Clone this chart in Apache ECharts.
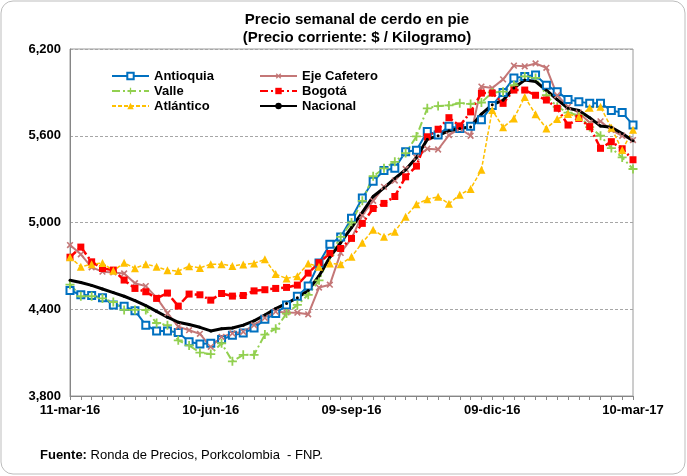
<!DOCTYPE html>
<html>
<head>
<meta charset="utf-8">
<script src="https://cdn.jsdelivr.net/npm/echarts@6/dist/echarts.min.js"></script>
<style>
  html, body { margin: 0; padding: 0; background: #fff; }
  #chart { width: 687px; height: 476px; }
</style>
</head>
<body>
<div id="chart"></div>
<script>
  // semanas (viernes)
  var weeks = ['11-mar-16', '18-mar-16', '25-mar-16', '01-abr-16', '08-abr-16', '15-abr-16', '22-abr-16', '29-abr-16',
    '06-may-16', '13-may-16', '20-may-16', '27-may-16', '03-jun-16', '10-jun-16', '17-jun-16', '24-jun-16',
    '01-jul-16', '08-jul-16', '15-jul-16', '22-jul-16', '29-jul-16', '05-ago-16', '12-ago-16', '19-ago-16',
    '26-ago-16', '02-sep-16', '09-sep-16', '16-sep-16', '23-sep-16', '30-sep-16', '07-oct-16', '14-oct-16',
    '21-oct-16', '28-oct-16', '04-nov-16', '11-nov-16', '18-nov-16', '25-nov-16', '02-dic-16', '09-dic-16',
    '16-dic-16', '23-dic-16', '30-dic-16', '06-ene-17', '13-ene-17', '20-ene-17', '27-ene-17', '03-feb-17',
    '10-feb-17', '17-feb-17', '24-feb-17', '03-mar-17', '10-mar-17'];

  var yTicks = [3800, 4400, 5000, 5600, 6200];

  var antioquia = [4530, 4500, 4495, 4480, 4430, 4420, 4390, 4290, 4250, 4250, 4240, 4175, 4160, 4165, 4190, 4220,
    4235, 4270, 4330, 4370, 4430, 4490, 4560, 4720, 4850, 4900, 5030, 5170, 5285, 5360, 5375, 5490, 5500, 5630,
    5605, 5665, 5650, 5665, 5710, 5810, 5900, 6000, 6010, 6020, 5950, 5905, 5850, 5836, 5824, 5824, 5775, 5760, 5675];
  var ejeCafetero = [4844, 4780, 4690, 4660, 4655, 4648, 4580, 4560, 4480, 4373, 4280, 4255, 4230, 4140, 4209, 4233,
    4244, 4290, 4340, 4383, 4378, 4376, 4365, 4550, 4570, 4790, 4890, 5050, 5150, 5247, 5290, 5370, 5450, 5510,
    5505, 5605, 5650, 5600, 5940, 5930, 5990, 6085, 6080, 6100, 6070, 5880, 5800, 5760, 5690, 5700, 5640, 5600, 5570];
  var valle = [4570, 4490, 4490, 4475, 4450, 4395, 4395, 4395, 4305, 4290, 4185, 4150, 4100, 4090, 4165, 4040,
    4085, 4085, 4225, 4265, 4370, 4430, 4500, 4600, 4775, 4900, 5000, 5150, 5320, 5375, 5420, 5480, 5595, 5790,
    5805, 5810, 5825, 5820, 5830, 5900, 5905, 5950, 6010, 6000, 5880, 5800, 5760, 5740, 5660, 5600, 5515, 5450, 5370];
  var bogota = [4760, 4830, 4728, 4682, 4671, 4602, 4544, 4521, 4475, 4512, 4422, 4505, 4500, 4463, 4509, 4491,
    4495, 4527, 4535, 4544, 4551, 4567, 4650, 4722, 4786, 4820, 4890, 4994, 5097, 5132, 5180, 5316, 5390, 5593,
    5645, 5725, 5668, 5765, 5895, 5895, 5824, 5916, 5916, 5880, 5847, 5790, 5674, 5720, 5663, 5513, 5559, 5510, 5434];
  var atlantico = [4760, 4694, 4712, 4720, 4666, 4721, 4684, 4712, 4694, 4670, 4664, 4698, 4686, 4712, 4712, 4700,
    4710, 4717, 4745, 4643, 4613, 4629, 4717, 4694, 4717, 4712, 4763, 4860, 4950, 4901, 4936, 5040, 5127, 5160,
    5178, 5130, 5192, 5232, 5365, 5778, 5658, 5720, 5868, 5748, 5651, 5716, 5750, 5729, 5793, 5800, 5655, 5501, 5642];
  var nacional = [4600, 4585, 4565, 4540, 4515, 4490, 4460, 4425, 4385, 4345, 4310, 4295, 4275, 4250, 4265, 4270,
    4290, 4320, 4360, 4405, 4440, 4480, 4530, 4630, 4760, 4860, 4965, 5070, 5180, 5240, 5305, 5365, 5450, 5575,
    5600, 5635, 5650, 5660, 5750, 5815, 5845, 5930, 5985, 5975, 5915, 5850, 5790, 5775, 5725, 5667, 5658, 5616, 5565];

  var font = '"Liberation Sans", Arial, sans-serif';
  var plusPath = 'path://M4,0H6V4H10V6H6V10H4V6H0V4H4Z';

  function line(name, data, color, width, type, symbol, size, extra) {
    var s = {
      name: name,
      type: 'line',
      data: data,
      symbol: symbol,
      symbolSize: size,
      showAllSymbol: true,
      lineStyle: { color: color, width: width, type: type },
      itemStyle: { color: color },
      emphasis: { disabled: true }
    };
    for (var k in extra) s[k] = extra[k];
    return s;
  }

  var legendText = { fontFamily: font, fontSize: 13, fontWeight: 'bold', color: '#000', lineHeight: 14 };

  var option = {
    animation: false,
    backgroundColor: '#fff',
    textStyle: { fontFamily: font },
    graphic: [{
      type: 'rect',
      shape: { x: 1, y: 1, width: 684, height: 473, r: 12 },
      style: { fill: 'none', stroke: '#bdbdbd', lineWidth: 1 },
      silent: true
    }],
    title: [
      {
        text: 'Precio semanal de cerdo en pie\n(Precio corriente: $ / Kilogramo)',
        left: 352,
        top: 6,
        textAlign: 'center',
        textStyle: { fontFamily: font, fontSize: 15, fontWeight: 'bold', color: '#000', lineHeight: 18 }
      },
      {
        text: '{b|Fuente:} Ronda de Precios, Porkcolombia  - FNP.',
        left: 35,
        top: 444,
        textStyle: {
          fontFamily: font, fontSize: 13, fontWeight: 'normal', color: '#000',
          rich: { b: { fontFamily: font, fontSize: 13, fontWeight: 'bold', color: '#000' } }
        }
      }
    ],
    legend: [
      {
        data: ['Antioquia', 'Valle', 'Atlántico'],
        orient: 'vertical',
        left: 106,
        top: 64,
        itemWidth: 37,
        itemHeight: 8,
        itemGap: 1,
        textStyle: legendText
      },
      {
        data: ['Eje Cafetero', 'Bogotá', 'Nacional'],
        orient: 'vertical',
        left: 254,
        top: 64,
        itemWidth: 37,
        itemHeight: 8,
        itemGap: 1,
        textStyle: legendText
      }
    ],
    grid: {
      left: 70,
      right: 54,
      top: 49,
      bottom: 80,
      show: true,
      borderColor: '#9a9a9a',
      borderWidth: 1
    },
    xAxis: {
      type: 'category',
      data: weeks,
      boundaryGap: false,
      axisLine: { lineStyle: { color: '#868686', width: 1 } },
      axisTick: { show: true, interval: 0, length: 4, lineStyle: { color: '#868686' } },
      axisLabel: {
        interval: 12,
        margin: 8,
        fontFamily: font,
        fontSize: 13,
        fontWeight: 'bold',
        color: '#000'
      },
      splitLine: { show: false }
    },
    yAxis: {
      type: 'value',
      min: yTicks[0],
      max: yTicks[yTicks.length - 1],
      interval: 600,
      axisLine: { show: true, lineStyle: { color: '#868686', width: 1 } },
      axisTick: { show: false },
      axisLabel: {
        margin: 9,
        fontFamily: font,
        fontSize: 13,
        fontWeight: 'bold',
        color: '#000',
        formatter: function (v) {
          return String(v).replace(/\B(?=(\d{3})+(?!\d))/g, ',');
        }
      },
      splitLine: { show: true, lineStyle: { color: '#a6a6a6', type: [3, 2], width: 1 } }
    },
    series: [
      line('Antioquia', antioquia, '#0070C0', 2, 'solid', 'emptyRect', 7,
        { itemStyle: { color: '#0070C0', borderWidth: 1.2 } }),
      line('Eje Cafetero', ejeCafetero, '#C47777', 2, 'solid', plusPath, 8, { symbolRotate: 45 }),
      line('Valle', valle, '#92D050', 2, [8, 3, 2, 3], plusPath, 9, {}),
      line('Bogotá', bogota, '#FF0000', 2.5, [8, 3, 2, 3], 'rect', 7, {}),
      line('Atlántico', atlantico, '#FFC000', 1.5, [4, 2], 'triangle', 8, {}),
      line('Nacional', nacional, '#000000', 3, 'solid', 'circle', 3, {})
    ]
  };

  var chart = echarts.init(document.getElementById('chart'));
  chart.setOption(option);
</script>
</body>
</html>
